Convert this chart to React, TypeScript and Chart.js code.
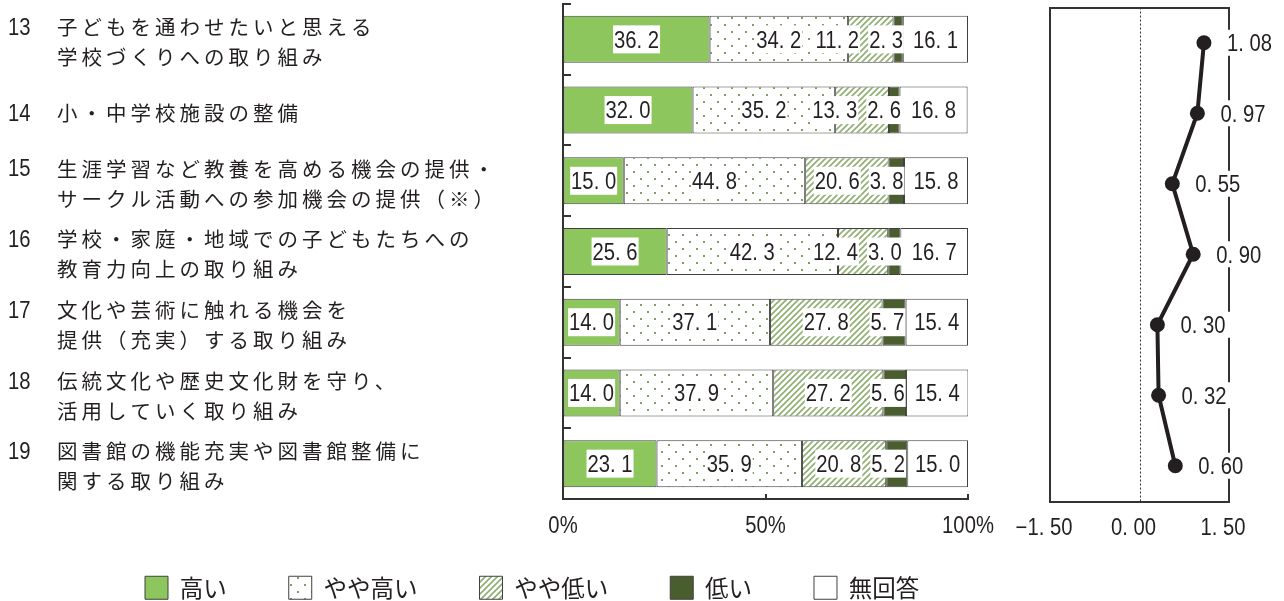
import React, { useEffect, useRef } from "react";
import { Chart, registerables } from "chart.js";

Chart.register(...registerables);

// ---------- data ----------
const itemNumbers = ["13", "14", "15", "16", "17", "18", "19"];
const itemLines = [
  ["子どもを通わせたいと思える", "学校づくりへの取り組み"],
  ["小・中学校施設の整備"],
  ["生涯学習など教養を高める機会の提供・", "サークル活動への参加機会の提供（※）"],
  ["学校・家庭・地域での子どもたちへの", "教育力向上の取り組み"],
  ["文化や芸術に触れる機会を", "提供（充実）する取り組み"],
  ["伝統文化や歴史文化財を守り、", "活用していく取り組み"],
  ["図書館の機能充実や図書館整備に", "関する取り組み"],
];
const seriesNames = ["高い", "やや高い", "やや低い", "低い", "無回答"];
const high = [36.2, 32.0, 15.0, 25.6, 14.0, 14.0, 23.1];
const ratherHigh = [34.2, 35.2, 44.8, 42.3, 37.1, 37.9, 35.9];
const ratherLow = [11.2, 13.3, 20.6, 12.4, 27.8, 27.2, 20.8];
const low = [2.3, 2.6, 3.8, 3.0, 5.7, 5.6, 5.2];
const noAnswer = [16.1, 16.8, 15.8, 16.7, 15.4, 15.4, 15.0];
const scores = [1.08, 0.97, 0.55, 0.9, 0.3, 0.32, 0.6];
const percentTicks = [0, 50, 100];
const scoreTicks = [-1.5, 0, 1.5];

// ---------- styles ----------
const INK = "#231f20";
const AXIS = "#333333";
const GREEN = "#8cc65c";
const DARK = "#4a5d2e";
const EDGE = "#404040";
const CJK_FAMILY = "'Noto Sans CJK JP', sans-serif";
const NUM_FONT = "23px 'Liberation Sans', Arial, sans-serif";
const NUM_SCALE = 0.88;

const fmt1 = (v: number) => v.toFixed(1).replace(".", ". ");
const fmt2 = (v: number) => (v < 0 ? "−" : "") + Math.abs(v).toFixed(2).replace(".", ". ");

function numWidth(ctx: CanvasRenderingContext2D, text: string) {
  ctx.save();
  ctx.font = NUM_FONT;
  const w = ctx.measureText(text).width * NUM_SCALE;
  ctx.restore();
  return w;
}

// draws condensed numeric text; y is the visual centre of the digits
function drawNum(ctx: CanvasRenderingContext2D, text: string, x: number, y: number, align: CanvasTextAlign) {
  ctx.save();
  ctx.font = NUM_FONT;
  ctx.fillStyle = INK;
  ctx.textAlign = align;
  ctx.textBaseline = "alphabetic";
  ctx.translate(x, y + 8.2);
  ctx.scale(NUM_SCALE, 1);
  ctx.fillText(text, 0, 0);
  ctx.restore();
}

function makeDots() {
  const c = document.createElement("canvas");
  c.width = 14;
  c.height = 14;
  const g = c.getContext("2d")!;
  g.fillStyle = "#ffffff";
  g.fillRect(0, 0, 14, 14);
  g.fillStyle = "#7f9c62";
  g.fillRect(3, 3, 2, 2);
  g.fillRect(10, 10, 2, 2);
  return g.createPattern(c, "repeat")!;
}

function makeHatch() {
  const s = 6;
  const c = document.createElement("canvas");
  c.width = s;
  c.height = s;
  const g = c.getContext("2d")!;
  g.fillStyle = "#ffffff";
  g.fillRect(0, 0, s, s);
  g.strokeStyle = "#8fae70";
  g.lineWidth = 1.6;
  g.beginPath();
  g.moveTo(-1, s + 1);
  g.lineTo(s + 1, -1);
  g.moveTo(-1, 1);
  g.lineTo(1, -1);
  g.moveTo(s - 1, s + 1);
  g.lineTo(s + 1, s - 1);
  g.stroke();
  return g.createPattern(c, "repeat")!;
}

const barDecor = {
  id: "barDecor",
  afterDatasetsDraw(chart: any) {
    const ctx = chart.ctx;
    const { left, bottom } = chart.chartArea;
    const ys = chart.scales.y;
    const xs = chart.scales.x;
    const n = itemNumbers.length;
    const pitch = Math.abs(ys.getPixelForValue(1) - ys.getPixelForValue(0));
    ctx.save();
    // inward ticks
    ctx.strokeStyle = AXIS;
    ctx.lineWidth = 2;
    ctx.beginPath();
    for (let k = 0; k < n; k++) {
      const y = Math.round(ys.getPixelForValue(k) - pitch / 2);
      ctx.moveTo(left, y);
      ctx.lineTo(left + 8, y);
    }
    for (const t of xs.ticks) {
      if (t.value === 0) continue;
      const x = Math.round(xs.getPixelForValue(t.value));
      ctx.moveTo(x, bottom - 5);
      ctx.lineTo(x, bottom);
    }
    ctx.stroke();

    // x tick labels
    for (const t of xs.ticks) {
      drawNum(ctx, `${t.value}%`, xs.getPixelForValue(t.value), bottom + 26, "center");
    }

    // data labels
    for (let i = 0; i < n; i++) {
      const items = chart.data.datasets.map((ds: any, d: number) => {
        const el = chart.getDatasetMeta(d).data[i];
        const text = fmt1(ds.data[i]);
        const w = numWidth(ctx, text) + 2;
        return { text, w, c: (el.x + el.base) / 2, y: el.y };
      });
      for (let j = items.length - 2; j >= 0; j--) {
        const nextLeft = items[j + 1].c - items[j + 1].w / 2;
        const maxC = nextLeft - 8 - items[j].w / 2;
        if (items[j].c > maxC) items[j].c = maxC;
      }
      for (const it of items) {
        ctx.fillStyle = "#ffffff";
        ctx.fillRect(it.c - it.w / 2, it.y - 14, it.w, 28);
        drawNum(ctx, it.text, it.c, it.y, "center");
      }
    }
    ctx.restore();
  },
  afterDraw(chart: any) {
    const ctx = chart.ctx;
    const ys = chart.scales.y;
    ctx.save();
    ctx.fillStyle = INK;
    ctx.textAlign = "left";
    ctx.textBaseline = "middle";
    itemNumbers.forEach((num, i) => {
      const yc = ys.getPixelForValue(i) + 3;
      const lines = itemLines[i];
      const y0 = yc - ((lines.length - 1) * 30) / 2;
      drawNum(ctx, num, 8, y0 - 0.5, "left");
      ctx.font = `20.5px ${CJK_FAMILY}`;
      ctx.fillStyle = INK;
      (ctx as any).letterSpacing = "4px";
      lines.forEach((ln, k) => ctx.fillText(ln, 57, y0 + k * 30));
      (ctx as any).letterSpacing = "0px";
    });
    ctx.restore();
  },
};

const scoreDecor = {
  id: "scoreDecor",
  beforeDatasetsDraw(chart: any) {
    const ctx = chart.ctx;
    const { left, right, top, bottom } = chart.chartArea;
    const xs = chart.scales.x;
    ctx.save();
    const x0 = Math.round(xs.getPixelForValue(0)) + 0.5;
    ctx.strokeStyle = AXIS;
    ctx.lineWidth = 1;
    ctx.setLineDash([2, 2]);
    ctx.beginPath();
    ctx.moveTo(x0, top);
    ctx.lineTo(x0, bottom);
    ctx.stroke();
    ctx.setLineDash([]);
    ctx.lineWidth = 2;
    ctx.strokeRect(Math.round(left), Math.round(top), Math.round(right - left), Math.round(bottom - top));
    ctx.restore();
    // tick labels
    for (const t of xs.ticks) {
      drawNum(ctx, fmt2(t.value), xs.getPixelForValue(t.value) - 6, bottom + 26, "center");
    }
  },
  afterDatasetsDraw(chart: any) {
    const ctx = chart.ctx;
    const meta = chart.getDatasetMeta(0);
    ctx.save();
    meta.data.forEach((pt: any, i: number) => {
      const t = fmt2(scores[i]);
      const w = numWidth(ctx, t);
      const x = pt.x + 23;
      ctx.fillStyle = "#ffffff";
      ctx.fillRect(x - 1, pt.y - 13, w + 6, 26);
      drawNum(ctx, t, x, pt.y + 0.5, "left");
    });
    ctx.restore();
  },
};

export default function App() {
  const barRef = useRef<HTMLCanvasElement>(null);
  const scoreRef = useRef<HTMLCanvasElement>(null);

  useEffect(() => {
    const dots = makeDots();
    const hatch = makeHatch();
    const fills = [GREEN, dots, hatch, DARK, "#ffffff"];
    const values = [high, ratherHigh, ratherLow, low, noAnswer];

    const bar = new Chart(barRef.current!, {
      type: "bar",
      data: {
        labels: itemNumbers,
        datasets: seriesNames.map((name, k) => ({
          label: name,
          data: values[k],
          backgroundColor: fills[k] as any,
          borderColor: EDGE,
          borderWidth: 1,
          borderSkipped: false,
          barPercentage: 0.665,
          categoryPercentage: 1,
          xAxisID: "x",
          yAxisID: "y",
        })),
      },
      options: {
        indexAxis: "y",
        animation: false,
        responsive: false,
        devicePixelRatio: 1,
        layout: { padding: { left: 83, right: 32, top: 4, bottom: 0.5 } },
        plugins: {
          tooltip: { enabled: false },
          legend: {
            position: "bottom",
            align: "start",
            labels: {
              boxWidth: 23,
              boxHeight: 23,
              padding: 62,
              color: INK,
              font: { family: CJK_FAMILY, size: 23.5 },
            },
          },
        },
        scales: {
          x: {
            type: "linear",
            stacked: true,
            min: 0,
            max: 100,
            afterBuildTicks: (s: any) => {
              s.ticks = percentTicks.map((v) => ({ value: v }));
            },
            afterFit: (s: any) => {
              s.height = 15;
            },
            grid: { display: true, drawOnChartArea: false, drawTicks: false },
            border: { display: true, color: AXIS, width: 2 },
            ticks: { display: false },
          },
          y: {
            type: "category",
            stacked: true,
            afterFit: (s: any) => {
              s.width = 480;
            },
            grid: { display: true, drawOnChartArea: false, drawTicks: false },
            border: { display: true, color: AXIS, width: 2 },
            ticks: { display: false },
          },
          yRight: {
            type: "linear",
            position: "right",
            display: true,
            afterFit: (s: any) => {
              s.width = 100;
            },
            grid: { display: false },
            border: { display: false },
            ticks: { display: false },
          },
        },
      },
      plugins: [barDecor],
    } as any);

    const line = new Chart(scoreRef.current!, {
      type: "line",
      data: {
        labels: itemNumbers,
        datasets: [
          {
            data: scores,
            borderColor: INK,
            backgroundColor: INK,
            borderWidth: 4,
            pointRadius: 7.5,
            pointBackgroundColor: INK,
            pointBorderWidth: 0,
            tension: 0,
          },
        ],
      },
      options: {
        indexAxis: "y",
        animation: false,
        responsive: false,
        devicePixelRatio: 1,
        layout: { padding: { left: 50, right: 55, top: 4, bottom: 0 } },
        plugins: { legend: { display: false }, tooltip: { enabled: false } },
        scales: {
          x: {
            type: "linear",
            min: -1.5,
            max: 1.5,
            afterBuildTicks: (s: any) => {
              s.ticks = scoreTicks.map((v) => ({ value: v }));
            },
            afterFit: (s: any) => {
              s.height = 100;
            },
            grid: { display: false },
            border: { display: false },
            ticks: { display: false },
          },
          y: { type: "category", offset: true, display: false },
        },
      },
      plugins: [scoreDecor],
    } as any);

    return () => {
      bar.destroy();
      line.destroy();
    };
  }, []);

  return (
    <div
      style={{
        position: "fixed",
        left: 0,
        top: 0,
        width: 1284,
        height: 601,
        overflow: "hidden",
        background: "#ffffff",
      }}
    >
      <canvas
        ref={barRef}
        width={1100}
        height={610}
        style={{ position: "absolute", left: 0, top: 0, width: 1100, height: 610 }}
      />
      <canvas
        ref={scoreRef}
        width={284}
        height={601}
        style={{ position: "absolute", left: 1000, top: 0, width: 284, height: 601 }}
      />
    </div>
  );
}
